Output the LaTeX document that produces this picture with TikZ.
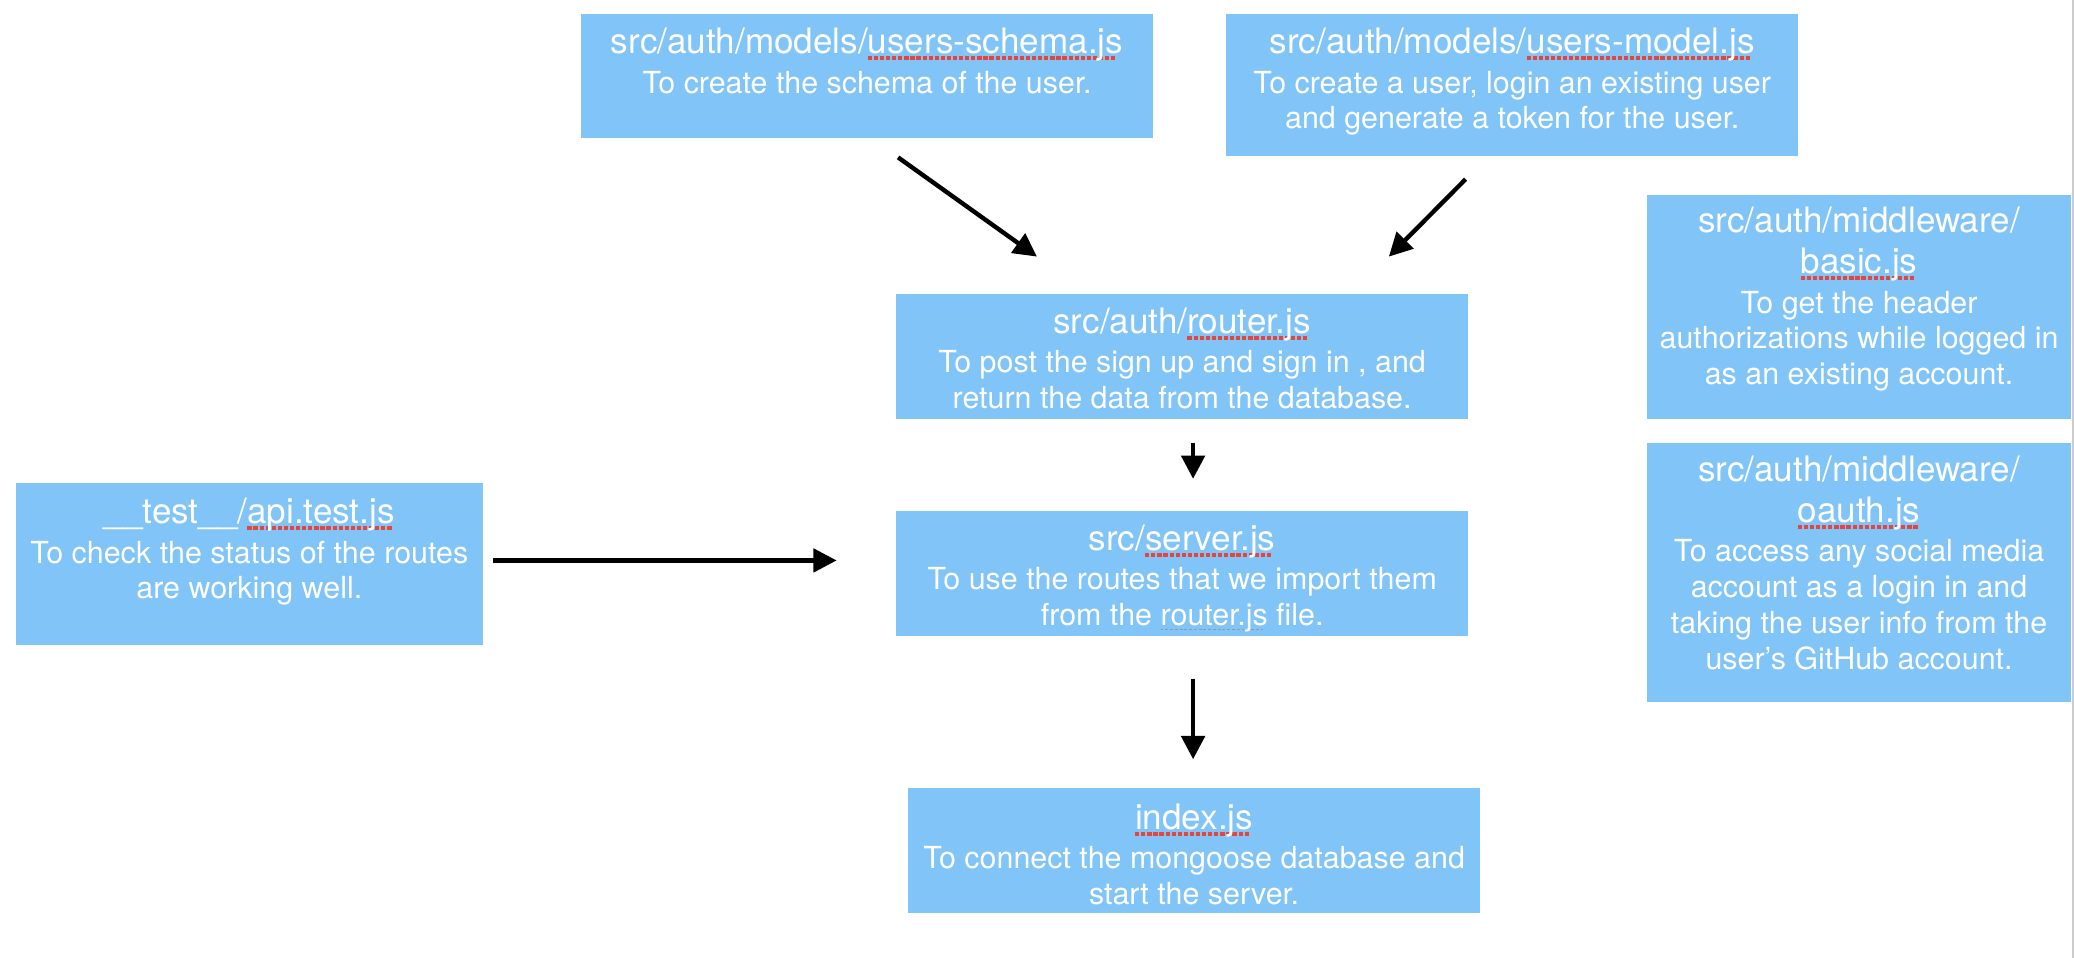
\documentclass[tikz,border=0pt]{standalone}
\usepackage{fontspec}
\setmainfont{TeX Gyre Heros}
\usetikzlibrary{arrows.meta}
\definecolor{boxblue}{HTML}{80C4F8}
\definecolor{spellred}{HTML}{E5453A}
\newsavebox\spellbox
\newcommand\spellmark[1]{\sbox\spellbox{#1}\leavevmode\rlap{\hbox to \wd\spellbox{\color{spellred}\leaders\hbox{\rule[-5.2pt]{3.2pt}{3.2pt}\hskip1.4pt}\hfill}}\usebox\spellbox}
\newcommand\grammark[1]{\sbox\spellbox{#1}\leavevmode\rlap{\hbox to \wd\spellbox{\color{black!40}\leaders\hbox{\rule[-3.8pt]{2.2pt}{1.3pt}\hskip1.4pt}\hfill}}\usebox\spellbox}
\newcommand\boxtitlefont{\fontsize{26.5}{29.5}\selectfont}
\newcommand\boxbodyfont{\fontsize{23}{27}\selectfont}
\begin{document}
\begin{tikzpicture}[x=1pt,y=-1pt,
  box/.style={fill=boxblue, draw=none, inner sep=0pt, rectangle},
  lbl/.style={anchor=north, inner sep=0pt, align=center, text=white, font=\boxbodyfont},
  conn/.style={-{Triangle[length=17.6pt,width=17.6pt]}, line width=3.3pt, black}]
\useasboundingbox (0,0) rectangle (1568,724);
\fill[white] (0,0) rectangle (1568,724);
\draw[black!20, line width=1.5pt] (1567,0) -- (1567,724);

% boxes
\node[box, minimum width=432pt, minimum height=94pt] (schema) at (655.5,57.6) {};
\node[box, minimum width=432.5pt, minimum height=107pt] (model) at (1143.25,64.15) {};
\node[box, minimum width=432.5pt, minimum height=94.5pt] (router) at (893.75,269.25) {};
\node[box, minimum width=321pt, minimum height=169pt] (basic) at (1405.5,232) {};
\node[box, minimum width=321pt, minimum height=195.5pt] (oauth) at (1405.5,432.75) {};
\node[box, minimum width=353pt, minimum height=123pt] (test) at (188.5,426.5) {};
\node[box, minimum width=432.5pt, minimum height=94pt] (server) at (893.75,433.5) {};
\node[box, minimum width=432.5pt, minimum height=94pt] (index) at (902.75,643) {};

% texts
\node[lbl] (schemaT) at ([yshift=-10.5pt]schema.north)
  {\boxtitlefont src/auth/models/\spellmark{users-schema.js}\\[3pt]
   \boxbodyfont To create the schema of the user.};
\node[lbl] (modelT) at ([yshift=-10.5pt]model.north)
  {\boxtitlefont src/auth/models/\spellmark{users-model.js}\\[3pt]
   \boxbodyfont To create a user, login an existing user\\
   \boxbodyfont and generate a token for the user.};
\node[lbl] (routerT) at ([yshift=-10.5pt]router.north)
  {\boxtitlefont src/auth/\spellmark{router.js}\\[3pt]
   \boxbodyfont To post the sign up and sign in , and\\
   \boxbodyfont return the data from the database.};
\node[lbl] (basicT) at ([yshift=-9pt]basic.north)
  {\boxtitlefont src/auth/middleware/\\[4pt]
   \boxtitlefont \spellmark{basic.js}\\[3pt]
   \boxbodyfont To get the header\\
   \boxbodyfont authorizations while logged in\\
   \boxbodyfont as an existing account.};
\node[lbl] (oauthT) at ([yshift=-9.5pt]oauth.north)
  {\boxtitlefont src/auth/middleware/\\[4pt]
   \boxtitlefont \spellmark{oauth.js}\\[3pt]
   \boxbodyfont To access any social media\\
   \boxbodyfont account as a login in and\\
   \boxbodyfont taking the user info from the\\
   \boxbodyfont user’s GitHub account.};
\node[lbl] (testT) at ([yshift=-11.5pt]test.north)
  {\boxtitlefont \_\_test\_\_/\spellmark{api.test.js}\\[3pt]
   \boxbodyfont To check the status of the routes\\
   \boxbodyfont are working well.};
\node[lbl] (serverT) at ([yshift=-10pt]server.north)
  {\boxtitlefont src/\spellmark{server.js}\\[3pt]
   \boxbodyfont To use the routes that we import them\\
   \boxbodyfont from the \grammark{router.js} file.};
\node[lbl] (indexT) at ([yshift=-11.5pt]index.north)
  {\boxtitlefont \spellmark{index.js}\\[3pt]
   \boxbodyfont To connect the mongoose database and\\
   \boxbodyfont start the server.};

% connector end points
\coordinate (schemaOut) at (679,119);
\coordinate (routerIn1) at (784,194);
\coordinate (modelOut) at (1108,135.5);
\coordinate (routerIn2) at (1050,194);
\coordinate (routerOut) at (902,335);
\coordinate (serverIn1) at (902,362);
\coordinate (serverOut) at (902,513);
\coordinate (indexIn) at (902,574);
\coordinate (testOut) at (372.5,423.7);
\coordinate (serverIn2) at (632.5,423.7);

\draw[conn] (schemaOut) -- (routerIn1);
\draw[conn] (modelOut) -- (routerIn2);
\draw[conn] (routerOut) -- (serverIn1);
\draw[conn] (serverOut) -- (indexIn);
\draw[conn] (testOut) -- (serverIn2);
\end{tikzpicture}
\end{document}
